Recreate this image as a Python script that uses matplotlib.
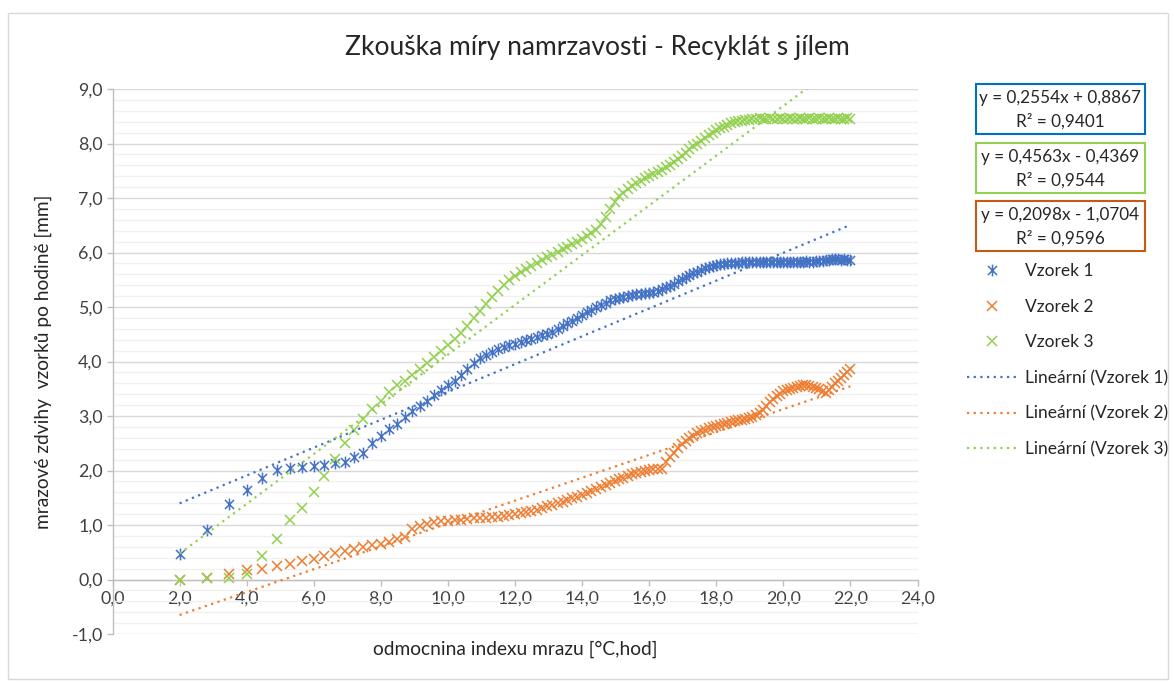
import numpy as np
import matplotlib
matplotlib.use("Agg")
import matplotlib.pyplot as plt
from matplotlib.path import Path
from matplotlib.patches import Rectangle
from matplotlib.ticker import MultipleLocator, FuncFormatter

plt.rcParams['font.family'] = ['Lato', 'DejaVu Sans']

# square root of the frost index [°C,hod]
sqrt_index = [2.00, 2.83, 3.46, 4.00, 4.47, 4.90, 5.29, 5.66, 6.00, 6.32,
              6.63, 6.93, 7.21, 7.48, 7.75, 8.00, 8.25, 8.49, 8.72, 8.94,
              9.17, 9.38, 9.59, 9.80, 10.00, 10.20, 10.39, 10.58, 10.77, 10.95,
              11.14, 11.31, 11.49, 11.66, 11.83, 12.00, 12.17, 12.33, 12.49, 12.65,
              12.81, 12.96, 13.11, 13.27, 13.42, 13.56, 13.71, 13.86, 14.00, 14.14,
              14.28, 14.42, 14.56, 14.70, 14.83, 14.97, 15.10, 15.23, 15.36, 15.49,
              15.62, 15.75, 15.87, 16.00, 16.12, 16.25, 16.37, 16.49, 16.61, 16.73,
              16.85, 16.97, 17.09, 17.20, 17.32, 17.44, 17.55, 17.66, 17.78, 17.89,
              18.00, 18.11, 18.22, 18.33, 18.44, 18.55, 18.66, 18.76, 18.87, 18.97,
              19.08, 19.18, 19.29, 19.39, 19.49, 19.60, 19.70, 19.80, 19.90, 20.00,
              20.10, 20.20, 20.30, 20.40, 20.49, 20.59, 20.69, 20.78, 20.88, 20.98,
              21.07, 21.17, 21.26, 21.35, 21.45, 21.54, 21.63, 21.73, 21.82, 21.91,
              22.00]

# frost heave of the samples [mm]
vzorek1 = [0.46, 0.90, 1.38, 1.64, 1.87, 2.01, 2.04, 2.06, 2.09, 2.10,
           2.14, 2.15, 2.24, 2.33, 2.50, 2.63, 2.76, 2.85, 2.98, 3.10,
           3.19, 3.28, 3.38, 3.47, 3.56, 3.65, 3.76, 3.87, 3.98, 4.06,
           4.12, 4.18, 4.23, 4.27, 4.30, 4.33, 4.36, 4.39, 4.42, 4.45,
           4.48, 4.51, 4.55, 4.60, 4.65, 4.70, 4.75, 4.80, 4.85, 4.90,
           4.95, 5.00, 5.04, 5.08, 5.12, 5.15, 5.17, 5.19, 5.21, 5.22,
           5.23, 5.24, 5.25, 5.25, 5.27, 5.30, 5.33, 5.36, 5.39, 5.43,
           5.47, 5.51, 5.55, 5.59, 5.62, 5.65, 5.68, 5.71, 5.73, 5.75,
           5.77, 5.78, 5.79, 5.80, 5.80, 5.81, 5.81, 5.82, 5.82, 5.82,
           5.82, 5.83, 5.82, 5.82, 5.83, 5.83, 5.82, 5.82, 5.83, 5.82,
           5.82, 5.83, 5.82, 5.82, 5.83, 5.83, 5.84, 5.83, 5.83, 5.84,
           5.84, 5.85, 5.86, 5.87, 5.88, 5.88, 5.88, 5.87, 5.88, 5.87,
           5.86]

vzorek2 = [0.00, 0.03, 0.11, 0.18, 0.20, 0.25, 0.28, 0.34, 0.38, 0.43,
           0.48, 0.52, 0.56, 0.59, 0.63, 0.66, 0.69, 0.74, 0.78, 0.92,
           0.98, 1.01, 1.05, 1.07, 1.08, 1.09, 1.10, 1.11, 1.12, 1.12,
           1.13, 1.14, 1.15, 1.16, 1.18, 1.20, 1.22, 1.24, 1.26, 1.28,
           1.31, 1.34, 1.37, 1.40, 1.43, 1.46, 1.49, 1.52, 1.55, 1.59,
           1.62, 1.66, 1.70, 1.74, 1.77, 1.81, 1.84, 1.87, 1.90, 1.93,
           1.96, 1.98, 2.00, 2.01, 2.02, 2.02, 2.03, 2.15, 2.25, 2.33,
           2.41, 2.48, 2.54, 2.59, 2.64, 2.68, 2.72, 2.75, 2.78, 2.80,
           2.82, 2.84, 2.86, 2.88, 2.89, 2.91, 2.92, 2.93, 2.95, 2.97,
           2.99, 3.01, 3.05, 3.11, 3.18, 3.25, 3.31, 3.36, 3.41, 3.45,
           3.48, 3.50, 3.52, 3.54, 3.55, 3.56, 3.56, 3.55, 3.54, 3.52,
           3.49, 3.45, 3.43, 3.48, 3.54, 3.60, 3.65, 3.70, 3.75, 3.81,
           3.86]

vzorek3 = [0.00, 0.02, 0.03, 0.11, 0.43, 0.74, 1.09, 1.31, 1.61, 1.90,
           2.22, 2.50, 2.74, 2.95, 3.13, 3.28, 3.44, 3.56, 3.65, 3.75,
           3.86, 3.97, 4.08, 4.19, 4.30, 4.41, 4.53, 4.66, 4.80, 4.92,
           5.05, 5.18, 5.30, 5.40, 5.49, 5.57, 5.64, 5.70, 5.76, 5.81,
           5.86, 5.91, 5.96, 6.01, 6.06, 6.10, 6.15, 6.20, 6.25, 6.30,
           6.35, 6.42, 6.52, 6.66, 6.80, 6.92, 7.03, 7.10, 7.17, 7.22,
           7.27, 7.32, 7.36, 7.40, 7.44, 7.48, 7.52, 7.56, 7.61, 7.66,
           7.72, 7.77, 7.83, 7.89, 7.95, 8.00, 8.05, 8.10, 8.15, 8.20,
           8.24, 8.28, 8.31, 8.34, 8.37, 8.39, 8.41, 8.42, 8.43, 8.44,
           8.45, 8.45, 8.46, 8.45, 8.45, 8.46, 8.45, 8.45, 8.46, 8.45,
           8.45, 8.46, 8.45, 8.45, 8.46, 8.45, 8.45, 8.46, 8.45, 8.45,
           8.46, 8.45, 8.45, 8.46, 8.45, 8.45, 8.46, 8.45, 8.45, 8.46,
           8.45]

series_names = ['Vzorek 1', 'Vzorek 2', 'Vzorek 3']
colors = ['#4472C4', '#ED7D31', '#92D050']

# linear trendlines as shown in the chart (slope, intercept, R2)
slopes = [0.2554, 0.2098, 0.4563]
intercepts = [0.8867, -1.0704, -0.4369]
r_squared = [0.9401, 0.9596, 0.9544]

x_ticks = np.arange(0, 24.1, 2)
y_ticks = np.arange(-1, 9.1, 1)

W, H = 1174, 682
fig = plt.figure(figsize=(W / 100, H / 100), dpi=100)
ax = fig.add_axes([112.5 / W, 1 - 634 / H, 805 / W, 545 / H])

# excel style star marker: x with a vertical bar
star = Path([(-1, -1), (1, 1), (-1, 1), (1, -1), (0, -1.3), (0, 1.3)],
            [Path.MOVETO, Path.LINETO, Path.MOVETO, Path.LINETO, Path.MOVETO, Path.LINETO])
markers = [star, 'x', 'x']
sizes = [8.5, 7.5, 7.5]

x = np.array(sqrt_index)
data = [vzorek1, vzorek2, vzorek3]
for y, name, c, m, s in zip(data, series_names, colors, markers, sizes):
    ax.plot(x, y, linestyle='none', marker=m, ms=s, mew=1.1, mec=c, mfc='none',
            label=name, zorder=3)

for name, c, k, q in zip(series_names, colors, slopes, intercepts):
    xt = np.array([x.min(), x.max()])
    ax.plot(xt, k * xt + q, color=c, lw=1.6, linestyle=(0, (1, 2)),
            label='Lineární (' + name + ')', zorder=4)

ax.set_xlim(0, 24)
ax.set_ylim(-1, 9)
ax.set_xticks(x_ticks)
ax.set_yticks(y_ticks)
fmt = FuncFormatter(lambda v, p: f"{v:.1f}".replace('.', ','))
ax.xaxis.set_major_formatter(fmt)
ax.yaxis.set_major_formatter(fmt)
ax.yaxis.set_minor_locator(MultipleLocator(0.2))

ax.grid(which='major', axis='y', color='#d9d9d9', lw=1.0, zorder=0)
ax.grid(which='minor', axis='y', color='#f0f0f0', lw=1.0, zorder=0)
ax.set_axisbelow(True)
ax.spines['top'].set_visible(False)
ax.spines['right'].set_visible(False)
ax.spines['bottom'].set_position(('data', 0))
for sp in ['left', 'bottom']:
    ax.spines[sp].set_color('#bfbfbf')
    ax.spines[sp].set_linewidth(1.0)
ax.tick_params(which='major', length=4, width=1, color='#bfbfbf', labelsize=12.8,
               labelcolor='#404040', pad=3)
ax.tick_params(axis='x', pad=4)
ax.tick_params(which='minor', length=0)

ax.set_xlabel('odmocnina indexu mrazu [°C,hod]', fontsize=13.8, color='#262626')
ax.xaxis.set_label_coords(0.5, -0.012)
ax.set_ylabel('mrazové zdvihy  vzorků po hodině [mm]', fontsize=13.8, color='#262626')
ax.yaxis.set_label_coords(-0.075, 0.5)

fig.text(597 / W, 1 - 47 / H, 'Zkouška míry namrzavosti - Recyklát s jílem',
         ha='center', va='center', fontsize=19, color='#262626')

# trendline equation boxes (order as in the chart: 1, 3, 2)
box_colors = ['#0070C0', '#92D050', '#C55A11']
box_tops = [84, 143, 201]
for i, (bc, top) in enumerate(zip(box_colors, box_tops)):
    order = [0, 2, 1][i]
    k, q, r2 = slopes[order], intercepts[order], r_squared[order]
    sign = '+' if q >= 0 else '-'
    eq = f"y = {k:.4f}x {sign} {abs(q):.4f}".replace('.', ',')
    rr = f"R² = {r2:.4f}".replace('.', ',')
    fig.add_artist(Rectangle((976 / W, 1 - (top + 50) / H), 169 / W, 50 / H,
                             transform=fig.transFigure, fill=False, ec=bc, lw=1.5))
    fig.text(1060 / W, 1 - (top + 14) / H, eq, ha='center', va='center',
             fontsize=12.3, color='#262626')
    fig.text(1060 / W, 1 - (top + 37) / H, rr, ha='center', va='center',
             fontsize=12.3, color='#262626')

leg = ax.legend(loc='upper left', bbox_to_anchor=(967 / W, 1 - 263 / H),
                bbox_transform=fig.transFigure, frameon=False, fontsize=12.5,
                handlelength=2.9, handletextpad=0.45, labelspacing=1.13,
                borderpad=0, borderaxespad=0)
for t in leg.get_texts():
    t.set_color('#262626')

# chart border
fig.add_artist(Rectangle((8 / W, 1 - 679 / H), 1160 / W, 666 / H,
                         transform=fig.transFigure, fill=False, ec='#d9d9d9', lw=1.0))

fig.savefig('out.png', dpi=100)
